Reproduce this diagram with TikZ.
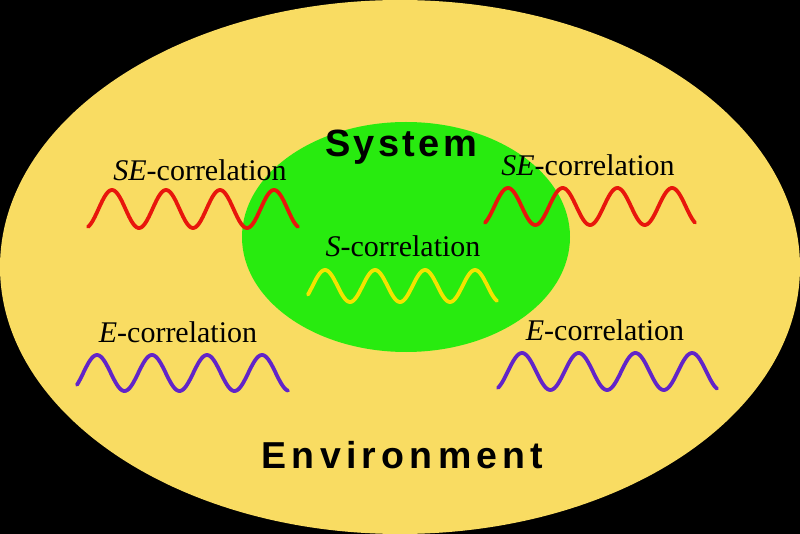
\documentclass[tikz,border=0pt]{standalone}
\usepackage{fontspec}
\setmainfont{Liberation Serif}
\newfontfamily\sysfont[LetterSpace=9]{Liberation Sans}
\newfontfamily\envfont[LetterSpace=14]{Liberation Sans}
\definecolor{envyellow}{RGB}{249,220,98}
\definecolor{sysgreen}{RGB}{40,235,15}
\definecolor{sered}{RGB}{232,22,12}
\definecolor{syellow}{RGB}{242,228,0}
\definecolor{epurple}{RGB}{98,36,200}
\tikzset{
  wave/.style={line width=3.8pt, line cap=round, smooth, samples=160},
  corrlabel/.style={anchor=base, inner sep=0pt, font=\fontsize{30}{33}\selectfont},
  bigtitle/.style={anchor=base, inner sep=0pt}
}
\begin{document}
\begin{tikzpicture}[x=1pt,y=-1pt]
\useasboundingbox (0,0) rectangle (800,534);
\fill[black] (0,0) rectangle (800,534);
\fill[envyellow] (400,267) ellipse [x radius=400pt, y radius=267pt];
\fill[sysgreen] (406,237) ellipse [x radius=164pt, y radius=115pt];

\node[bigtitle, font=\sysfont\bfseries\fontsize{38}{42}\selectfont] (sys) at (401.2,157) {System};
\node[bigtitle, font=\envfont\bfseries\fontsize{37.5}{42}\selectfont] (env) at (402.5,468) {Environment};

\node[corrlabel] (seL) at (200,181) {\textit{SE}-correlation};
\node[corrlabel] (seR) at (588,176) {\textit{SE}-correlation};
\node[corrlabel] (sC) at (403,257) {\textit{S}-correlation};
\node[corrlabel] (eL) at (178,342) {\textit{E}-correlation};
\node[corrlabel] (eR) at (605,341) {\textit{E}-correlation};

\draw[wave, sered, domain=88:298] plot (\x, {209 - 19*cos((\x-112)/54*360)});
\draw[wave, sered, domain=485:695] plot (\x, {206.5 - 18.5*cos((\x-508)/54.7*360)});
\draw[wave, syellow, domain=308:497] plot (\x, {286 - 16*cos((\x-325)/50*360)});
\draw[wave, epurple, domain=77:288] plot (\x, {373 - 18*cos((\x-97)/55*360)});
\draw[wave, epurple, domain=498:717] plot (\x, {371.5 - 18.5*cos((\x-522)/56.7*360)});
\end{tikzpicture}
\end{document}
